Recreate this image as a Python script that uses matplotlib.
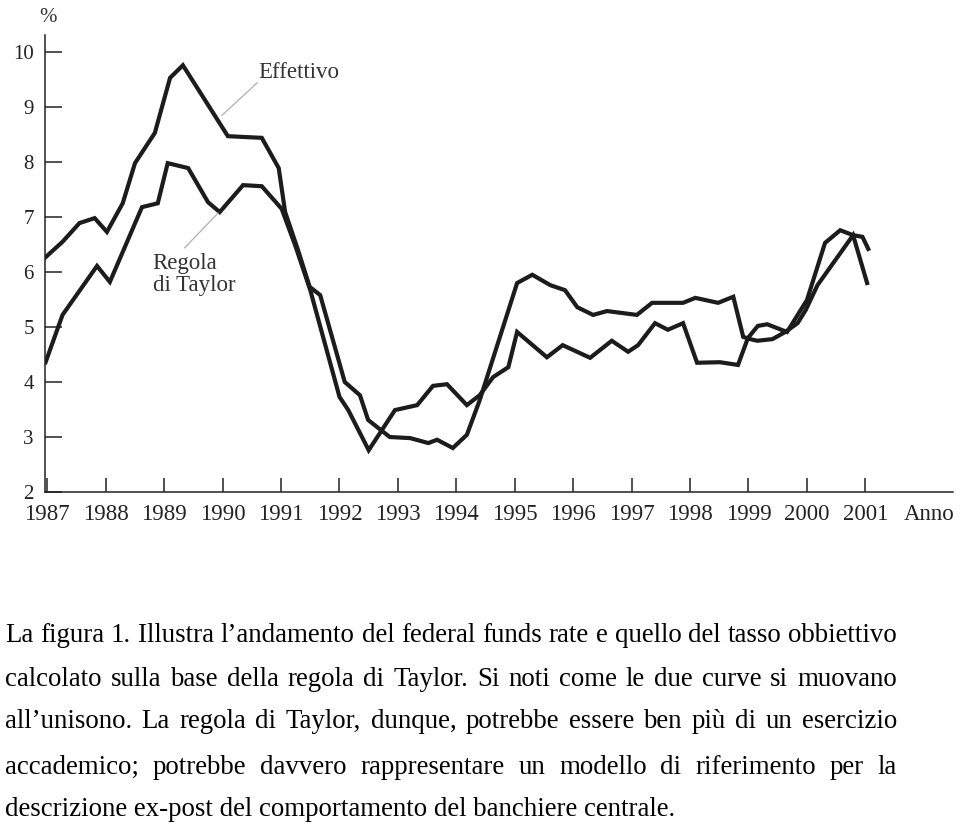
import numpy as np
import matplotlib
matplotlib.use('Agg')
import matplotlib.pyplot as plt

plt.rcParams['font.family'] = ['Liberation Serif', 'DejaVu Serif']

# federal funds rate effettivo
anni_eff = [1986.97, 1987.26, 1987.55, 1987.81, 1988.02, 1988.29, 1988.50, 1988.84, 1989.10, 1989.32,
            1990.09, 1990.67, 1990.96, 1991.07, 1991.29, 1991.49, 1991.67, 1992.09, 1992.35, 1992.49,
            1992.86, 1993.21, 1993.52, 1993.67, 1993.94, 1994.18, 1994.40, 1995.04, 1995.30, 1995.61,
            1995.86, 1996.07, 1996.34, 1996.58, 1997.09, 1997.35, 1997.88, 1998.09, 1998.48, 1998.74,
            1998.91, 1999.03, 1999.15, 1999.41, 1999.63, 1999.84, 1999.98, 2000.18, 2000.79, 2001.03]
effettivo = [6.27, 6.55, 6.89, 6.98, 6.73, 7.25, 7.98, 8.53, 9.53, 9.76,
             8.47, 8.44, 7.89, 7.09, 6.40, 5.73, 5.58, 4.00, 3.76, 3.31,
             3.00, 2.98, 2.89, 2.95, 2.80, 3.04, 3.67, 5.80, 5.95, 5.76,
             5.67, 5.36, 5.22, 5.29, 5.22, 5.44, 5.44, 5.53, 5.44, 5.55,
             4.82, 4.78, 4.75, 4.78, 4.91, 5.07, 5.31, 5.76, 6.67, 5.80]

# tasso obbiettivo secondo la regola di Taylor
anni_tay = [1986.97, 1987.26, 1987.85, 1988.07, 1988.62, 1988.89, 1989.06, 1989.41, 1989.75, 1989.95,
            1990.35, 1990.67, 1991.01, 1991.24, 1991.50, 1992.00, 1992.15, 1992.50, 1992.95, 1993.33,
            1993.60, 1993.84, 1994.18, 1994.40, 1994.63, 1994.89, 1995.04, 1995.55, 1995.82, 1996.29,
            1996.66, 1996.94, 1997.11, 1997.40, 1997.62, 1997.88, 1998.12, 1998.51, 1998.82, 1998.99,
            1999.16, 1999.32, 1999.49, 1999.66, 2000.00, 2000.31, 2000.57, 2000.79, 2000.95, 2001.05]
taylor = [4.36, 5.22, 6.11, 5.82, 7.18, 7.25, 7.98, 7.89, 7.27, 7.09,
          7.58, 7.56, 7.15, 6.49, 5.67, 3.73, 3.49, 2.76, 3.49, 3.58,
          3.93, 3.96, 3.58, 3.76, 4.09, 4.27, 4.91, 4.45, 4.67, 4.44,
          4.75, 4.55, 4.67, 5.07, 4.95, 5.07, 4.35, 4.36, 4.31, 4.80,
          5.02, 5.05, 4.98, 4.91, 5.49, 6.53, 6.76, 6.67, 6.64, 6.42]

anni_tick = list(range(1987, 2002))
y_tick = list(range(2, 11))

caption = [
    "La figura 1. Illustra l\u2019andamento del federal funds rate e quello del tasso obbiettivo",
    "calcolato sulla base della regola di Taylor. Si noti come le due curve si muovano",
    "all\u2019unisono. La regola di Taylor, dunque, potrebbe essere ben pi\u00f9 di un esercizio",
    "accademico; potrebbe davvero rappresentare un modello di riferimento per la",
    "descrizione ex-post del comportamento del banchiere centrale.",
]

W, H = 960, 827
fig = plt.figure(figsize=(W / 100, H / 100), dpi=100)
ax = fig.add_axes([45 / W, 1 - 492 / H, (953 - 45) / W, (492 - 35) / H])

col = '#1c1c1c'
ax.plot(anni_eff, effettivo, color=col, lw=3.0, solid_joinstyle='miter')
ax.plot(anni_tay, taylor, color=col, lw=3.0, solid_joinstyle='miter')

ax.set_xlim(1986.96, 2002.5)
ax.set_ylim(2, 10.31)
ax.set_xticks(anni_tick)
ax.set_xticklabels([str(a) for a in anni_tick])
ax.set_yticks(y_tick)
ax.tick_params(axis='x', direction='in', length=10, width=1.1, pad=9, labelsize=16.5, colors='#222222')
ax.tick_params(axis='y', direction='in', length=12, width=1.1, pad=8, labelsize=15, colors='#222222')
for s in ['top', 'right']:
    ax.spines[s].set_visible(False)
for s in ['left', 'bottom']:
    ax.spines[s].set_linewidth(1.1)
    ax.spines[s].set_color('#222222')

ax.annotate('Anno', xy=(2002.1, 0), xycoords=('data', 'axes fraction'),
            xytext=(0, -9), textcoords='offset points', ha='center', va='top',
            fontsize=16.5, color='#222222')
fig.text(48 / W, 1 - 17 / H, '%', ha='center', va='center', fontsize=15, color='#333333')

# etichette delle curve
ax.text(1991.30, 9.62, 'Effettivo', ha='center', va='center', fontsize=16.5, color='#333333')
ax.plot([1990.59, 1989.99], [9.44, 8.85], color='#b0b0b0', lw=0.9)
ax.text(1988.80, 5.95, 'Regola\ndi Taylor', ha='left', va='center', fontsize=16.5,
        color='#333333', linespacing=1.05)
ax.plot([1989.92, 1989.35], [7.07, 6.44], color='#b0b0b0', lw=0.9)

# didascalia giustificata
fig.canvas.draw()
r = fig.canvas.get_renderer()
x0, x1 = 5, 897
fs = 18
probe = fig.text(0, 0, caption[0], fontsize=fs)
wid = probe.get_window_extent(r).width
probe.remove()
fs = fs * (x1 - x0) / wid
righe_y = [635, 679, 722, 767, 810]
for i, riga in enumerate(caption):
    yf = 1 - righe_y[i] / H
    if i == len(caption) - 1:
        fig.text(x0 / W, yf, riga, fontsize=fs, va='center', ha='left')
        continue
    parole = riga.split(' ')
    objs = [fig.text(0, yf, p, fontsize=fs, va='center', ha='left') for p in parole]
    ws = [o.get_window_extent(r).width for o in objs]
    gap = ((x1 - x0) - sum(ws)) / (len(parole) - 1)
    x = x0
    for o, w in zip(objs, ws):
        o.set_x(x / W)
        x += w + gap

fig.savefig('out.png', dpi=100)
